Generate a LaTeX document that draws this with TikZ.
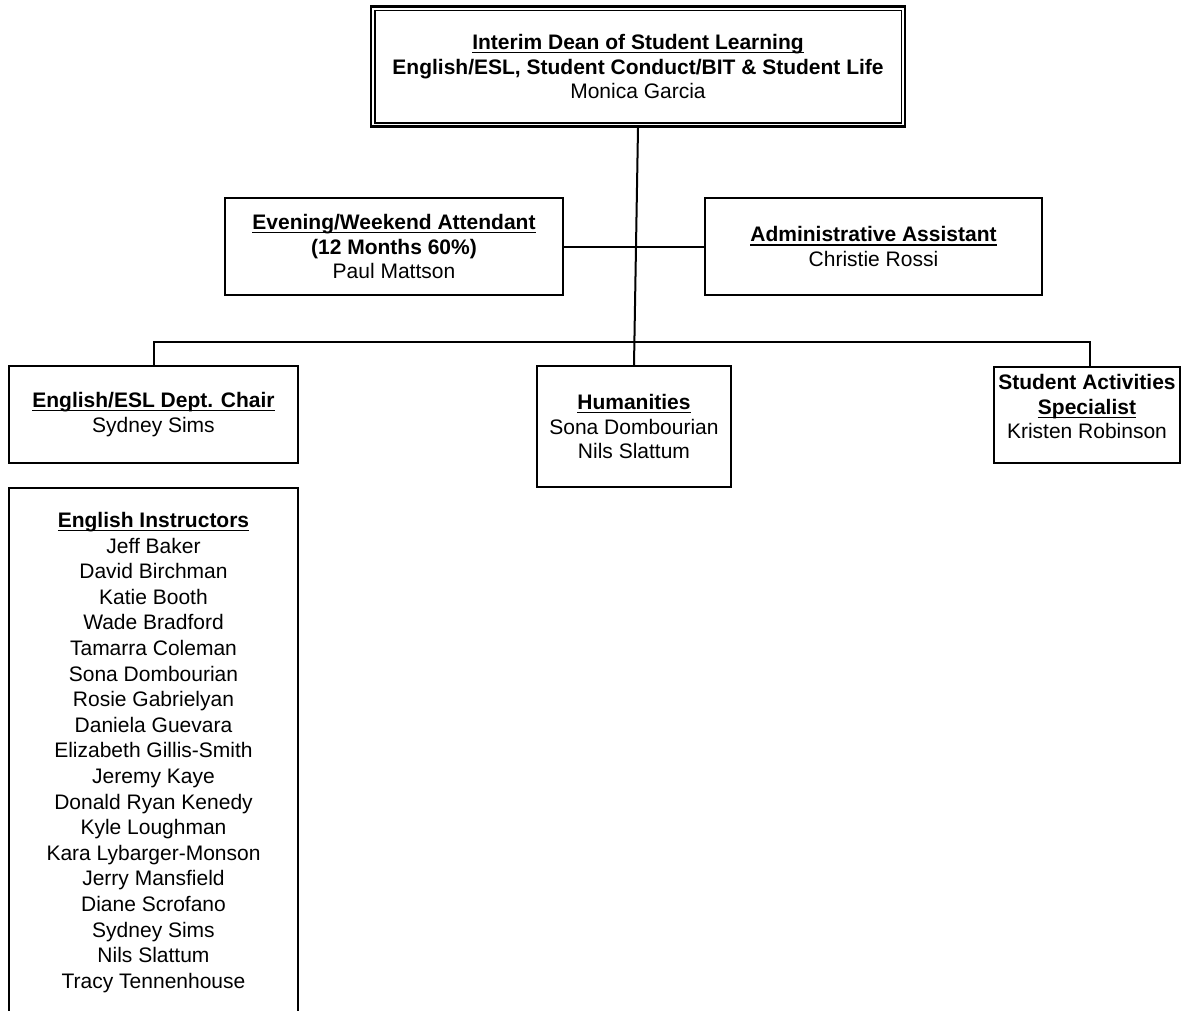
\documentclass[tikz,border=0pt]{standalone}
\usepackage{fontspec}
\setmainfont{Liberation Sans}
\usetikzlibrary{positioning}

\newcommand{\ttl}[1]{\textbf{\setbox0\hbox{#1}\rlap{\rule[-1.9pt]{\wd0}{0.7pt}}\box0}}

\begin{document}
\begin{tikzpicture}[x=0.5pt,y=-0.5pt,on grid,
  box/.style={draw,line width=1pt,align=center,inner sep=0pt,
    font=\fontsize{10.5}{12.3}\selectfont},
  link/.style={line width=1pt}]
  \useasboundingbox (0,0) rectangle (1184,1011);
  \clip (0,0) rectangle (1184,1011);
  % top of the chart
  \node[box,line width=1.3pt,minimum width=267pt,minimum height=60pt] (dean) at (638,66.7)
    {\ttl{Interim Dean of Student Learning}\\\textbf{English/ESL, Student Conduct/BIT \& Student Life}\\Monica Garcia};
  \draw[line width=0.8pt] ([shift={(2.5pt,-2.5pt)}]dean.north west) rectangle ([shift={(-2.5pt,2.5pt)}]dean.south east);
  \node[box,minimum width=169pt,minimum height=48.5pt] (evening) at (394,246.5)
    {\ttl{Evening/Weekend Attendant}\\\textbf{(12 Months 60\%)}\\Paul Mattson};
  \node[box,minimum width=168.5pt,minimum height=48.5pt] (admin) at (873.5,246.5)
    {\ttl{Administrative Assistant}\\Christie Rossi};
  % second row
  \node[box,minimum width=144.5pt,minimum height=48.5pt] (chair) at (153.5,414.5)
    {\ttl{English/ESL Dept. Chair}\\Sydney Sims};
  \node[box,minimum width=97pt,minimum height=60.5pt] (hum) at (634,426.5)
    {\ttl{Humanities}\\Sona Dombourian\\Nils Slattum};
  \node[box,minimum width=93pt,minimum height=48pt] (act) at (1087,415)
    {\textbf{Student Activities}\\\ttl{Specialist}\\Kristen Robinson\\[-4pt]};
  \node[box,minimum width=144.5pt,minimum height=264.5pt,
    font=\fontsize{10.5}{12.8}\selectfont] (instr) [below = 169pt of chair]
    {\ttl{English Instructors}\\Jeff Baker\\David Birchman\\Katie Booth\\Wade Bradford\\
     Tamarra Coleman\\Sona Dombourian\\Rosie Gabrielyan\\Daniela Guevara\\
     Elizabeth Gillis-Smith\\Jeremy Kaye\\Donald Ryan Kenedy\\Kyle Loughman\\
     Kara Lybarger-Monson\\Jerry Mansfield\\Diane Scrofano\\Sydney Sims\\
     Nils Slattum\\Tracy Tennenhouse};
  % lines
  \coordinate (bus) at (634,342);
  \draw[link] (dean.south) -- (hum.north);
  \draw[link] (evening.east) -- (admin.west);
  \draw[link] (chair.north) |- (bus) -| ([xshift=1.5pt]act.north);
\end{tikzpicture}
\end{document}
